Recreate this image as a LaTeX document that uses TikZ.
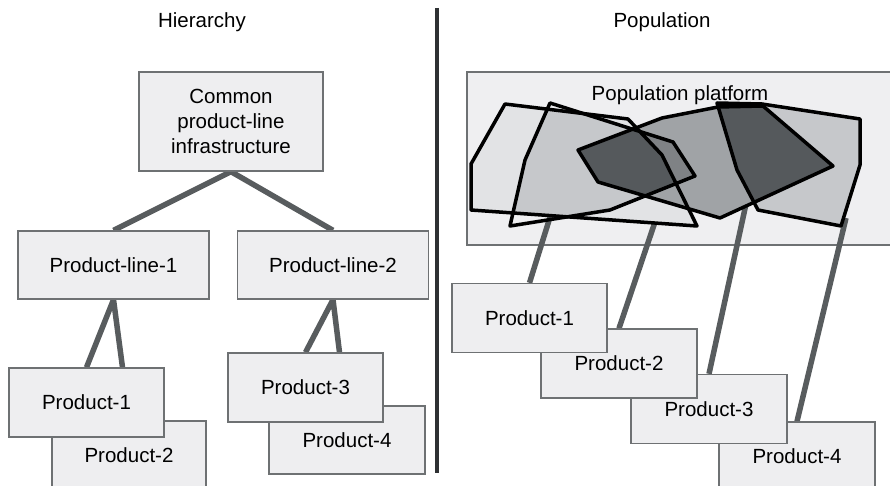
\documentclass[tikz,border=0pt]{standalone}
\usepackage{fontspec}
\setmainfont{Liberation Sans}
\pgfdeclarelayer{back}
\pgfdeclarelayer{conn}
\pgfsetlayers{back,conn,main}
\definecolor{boxfill}{HTML}{EEEEF0}
\definecolor{boxline}{HTML}{6E7173}
\definecolor{connclr}{HTML}{585C5E}
\definecolor{platfill}{HTML}{EFEFF1}
\definecolor{divclr}{HTML}{2E3133}
\definecolor{fa}{HTML}{E2E3E5}
\definecolor{fb}{HTML}{C6C8CB}
\definecolor{fc}{HTML}{A0A3A6}
\definecolor{fbc}{HTML}{7F8285}
\definecolor{fdark}{HTML}{55595C}
\newcommand\lblfont{\fontsize{20.5}{25}\selectfont}
% polygon outlines of the four product populations
\def\polyA{(471,210) -- (471,164) -- (505,104) -- (628,119) -- (662,155) -- (697,226) -- cycle}
\def\polyB{(550,103) -- (673,142) -- (695,176) -- (610,210) -- (510,226) -- (525,160) -- cycle}
\def\polyC{(578,150) -- (662,118) -- (718,107) -- (763,106) -- (833,166) -- (720,218) -- (598,182) -- cycle}
\def\polyE{(717,103) -- (762,104) -- (860,119) -- (860,165) -- (841,226) -- (758,210) -- (737,170) -- cycle}
\begin{document}
\begin{tikzpicture}[x=1pt,y=-1pt,
  box/.style={draw=boxline, fill=boxfill, line width=1.3pt, inner sep=0pt,
    font=\lblfont, align=center},
  prod/.style={box, minimum width=155pt, minimum height=69pt},
  plbox/.style={box, minimum width=191pt, minimum height=68pt},
  conn/.style={draw=connclr, line width=5.5pt},
  outline/.style={draw=black, line width=3.5pt, line join=round},
  title/.style={font=\lblfont, inner sep=0pt}]
\useasboundingbox (0,0) rectangle (890,486);

% titles and divider
\node[title] (thier) at (202,22) {Hierarchy};
\node[title] (tpop) at (662,22) {Population};
\draw[draw=divclr, line width=3.5pt] (437,8) -- (437,473);

% ---- hierarchy side ----
\node[box, minimum width=184pt, minimum height=99pt] (common) at (231,121.5)
  {Common\\product-line\\infrastructure};
\node[plbox] (pl1) at (113.5,265) {Product-line-1};
\node[plbox] (pl2) at (333,265) {Product-line-2};
\node[prod, minimum width=154pt] (lp2) at (129,455.5) {Product-2};
\node[prod] (lp1) at (86.5,402.5) {Product-1};
\node[prod, minimum width=156pt, minimum height=68pt] (lp4) at (347,440) {Product-4};
\node[prod] (lp3) at (305.5,387.5) {Product-3};

\begin{pgfonlayer}{conn}
  \draw[conn, line join=round] (pl1.north) -- (common.south) -- (pl2.north);
  \draw[conn, line join=round] (lp1.north) -- (pl1.south) -- ([xshift=36pt]lp1.north);
  \draw[conn, line join=round] (lp3.north) -- (pl2.south) -- ([xshift=34pt]lp3.north);
\end{pgfonlayer}

% ---- population side ----
\begin{pgfonlayer}{back}
  \node[draw=boxline, fill=platfill, line width=1.3pt, minimum width=428pt,
    minimum height=173pt, inner sep=0pt] (plat) at (681,158.5) {};
\end{pgfonlayer}
\node[title] (plattext) at (680,95) {Population platform};

\node[prod, minimum width=156pt] (rp4) at (797,456.5) {Product-4};
\node[prod, minimum width=156pt] (rp3) at (709,409) {Product-3};
\node[prod, minimum width=156pt] (rp2) at (619,363.5) {Product-2};
\node[prod] (rp1) at (529.5,318) {Product-1};

\coordinate (t1) at (551,214);
\coordinate (t2) at (655,222);
\coordinate (t3) at (746,204);
\coordinate (t4) at (846,218);
\begin{pgfonlayer}{conn}
  \draw[conn] (rp1.north) -- (t1);
  \draw[conn] (rp2.north) -- (t2);
  \draw[conn] (rp3.north) -- (t3);
  \draw[conn] (rp4.north) -- (t4);
\end{pgfonlayer}

% shaded populations, darker where they overlap
\fill[fa] \polyA;
\begin{scope}
  \clip \polyA;
  \fill[fb] \polyB;
\end{scope}
\fill[fc] \polyC;
\begin{scope}
  \clip \polyC;
  \fill[fbc] \polyB;
  \clip \polyA;
  \fill[fdark] \polyB;
\end{scope}
\fill[fb] \polyE;
\begin{scope}
  \clip \polyE;
  \fill[fdark] \polyC;
\end{scope}
\draw[outline] \polyA;
\draw[outline] \polyB;
\draw[outline] \polyC;
\draw[outline] \polyE;
\end{tikzpicture}
\end{document}
